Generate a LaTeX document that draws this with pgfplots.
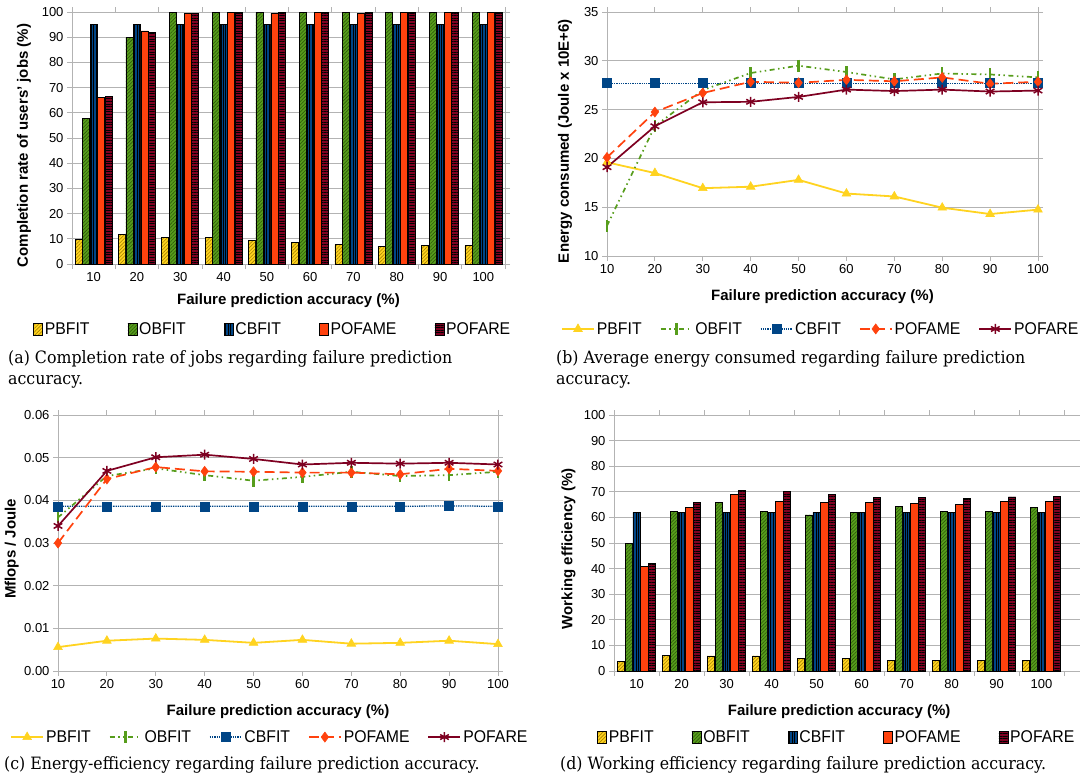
\documentclass[border=0pt]{standalone}
\usepackage{fontspec}
\setmainfont{Liberation Sans}
\newfontfamily\legfont[FakeStretch=0.93]{Liberation Sans}
\newfontfamily\capfont[FakeStretch=0.93]{DejaVu Serif}
\usepackage{pgfplots}
\usepackage{pgfplotstable}
\pgfplotsset{compat=1.18}
\usetikzlibrary{patterns,patterns.meta}
\definecolor{cyel}{HTML}{FFD320}
\definecolor{cgre}{HTML}{579D1C}
\definecolor{cblu}{HTML}{004586}
\definecolor{cora}{HTML}{FF420E}
\definecolor{cred}{HTML}{7E0021}
\definecolor{gridc}{HTML}{B3B3B3}
\definecolor{cyelh}{HTML}{A88400}
\definecolor{cgreh}{HTML}{2E5A0A}

\pgfplotstableread{
x pb ob cb pm pr
0 9.7 57.7 95 66.0 66.4
1 11.7 90.0 95 92.5 92.0
2 10.6 99.7 95 99.3 99.3
3 10.5 100 95 99.7 100
4 9.5 100 95 99.6 100
5 8.6 100 95 99.7 100
6 7.8 100 95 99.6 100
7 7.1 100 95 99.8 100
8 7.5 100 95 100 100
9 7.3 100 95 99.7 100
}\tabA
\pgfplotstableread{
x pb ob cb pm pr
10 19.6 13.1 27.7 20.1 19.1
20 18.5 23.3 27.7 24.75 23.3
30 16.95 27.0 27.7 26.7 25.75
40 17.1 28.75 27.7 27.85 25.8
50 17.8 29.5 27.7 27.75 26.3
60 16.4 28.85 27.7 28.05 27.05
70 16.1 28.1 27.7 27.9 26.9
80 14.95 28.7 27.7 28.3 27.05
90 14.3 28.6 27.7 27.65 26.85
100 14.75 28.3 27.7 27.85 26.95
}\tabB
\pgfplotstableread{
x pb ob cb pm pr
10 0.0056 0.0360 0.0386 0.0300 0.0340
20 0.0071 0.0457 0.0386 0.0450 0.0469
30 0.0076 0.0475 0.0386 0.0478 0.0501
40 0.0073 0.0459 0.0386 0.0468 0.0507
50 0.0066 0.0446 0.0386 0.0467 0.0497
60 0.0073 0.0455 0.0386 0.0465 0.0484
70 0.0064 0.0467 0.0386 0.0465 0.0488
80 0.0066 0.0457 0.0386 0.0461 0.0486
90 0.0071 0.0459 0.0387 0.0474 0.0488
100 0.0063 0.0467 0.0386 0.0469 0.0484
}\tabC
\pgfplotstableread{
x pb ob cb pm pr
0 3.8 49.7 62 41.0 42.0
1 6.1 62.5 62 63.9 66.0
2 5.9 65.9 62 69.0 70.7
3 5.9 62.5 62 66.3 70.2
4 4.9 61.0 62 65.8 69.0
5 4.8 62.0 62 65.9 67.7
6 4.2 64.2 62 65.6 67.8
7 4.2 62.2 62 65.1 67.3
8 4.3 62.2 62 66.4 68.0
9 4.2 63.9 62 66.4 68.1
}\tabD

\pgfplotsset{
  base/.style={
    scale only axis,
    axis line style={gridc, line width=0.8pt},
    ymajorgrids, grid style={gridc, line width=0.8pt},
    tick align=outside, major tick length=5pt, minor tick length=5pt,
    tick style={gridc, line width=0.8pt},
    tick label style={font=\fontsize{13}{13}\selectfont},
    label style={font=\fontsize{15}{15}\selectfont\bfseries},
    /pgf/number format/assume math mode=true,
    legend columns=5,
    legend style={draw=none, fill=none, inner sep=0pt,
      font=\legfont\fontsize{17}{17}\selectfont,
      nodes={inner sep=2pt}},
  },
  barax/.style={base, ybar=0.5pt, bar width=7pt,
    xmin=-0.5, ymin=0, ymax=100, ytick={0,10,...,100},
    xtick={0,...,9}, xticklabels={10,20,30,40,50,60,70,80,90,100},
    minor xtick={-0.5,0.5,...,9.5},
    major x tick style={draw=none},
    legend style={/tikz/every even column/.append style={column sep=36pt}},
    legend image code/.code={\draw[##1] (0pt,-6pt) rectangle (9pt,6pt);},
  },
  lineax/.style={base, xmin=10, xmax=100, xtick={10,20,...,100},
    legend style={/tikz/every even column/.append style={column sep=16pt}},
    legend image code/.code={\draw[mark repeat=2, mark phase=2, ##1] plot coordinates {(0pt,0pt) (16pt,0pt) (32pt,0pt)};},
  },
  bPB/.style={draw=black, line width=0.6pt, fill=cyel, postaction={pattern={Lines[angle=45,distance=2.5pt,line width=0.6pt]}, pattern color=cyelh}},
  bOB/.style={draw=black, line width=0.6pt, fill=cgre, postaction={pattern={Lines[angle=45,distance=2.5pt,line width=0.6pt]}, pattern color=cgreh}},
  bCB/.style={draw=black, line width=0.6pt, fill=cblu, postaction={pattern={Lines[angle=90,distance=2.4pt,line width=0.5pt]}, pattern color=black}},
  bPM/.style={draw=black, line width=0.6pt, fill=cora},
  bPR/.style={draw=black, line width=0.6pt, fill=cred, postaction={pattern={Lines[angle=0,distance=2.6pt,line width=0.6pt]}, pattern color=black}},
  lPB/.style={color=cyel, line width=1.8pt, mark=triangle*, mark size=5pt, mark options={solid, line width=0.6pt}},
  lOB/.style={color=cgre, line width=1.7pt, dash pattern=on 5pt off 3.5pt on 1.5pt off 3.5pt on 1.5pt off 3.5pt, mark=|, mark size=6pt, mark options={solid, line width=2.5pt}},
  lCB/.style={color=cblu, line width=1.3pt, densely dotted, mark=square*, mark size=4.5pt, mark options={solid, line width=0.6pt}},
  lPM/.style={color=cora, line width=1.7pt, dash pattern=on 10pt off 5pt, mark=diamond*, mark size=5pt, mark options={solid, line width=0.6pt}},
  lPR/.style={color=cred, line width=1.7pt, mark=asterisk, mark size=5pt, mark options={solid, line width=1.5pt}},
}

\begin{document}
\begin{tikzpicture}
\path[use as bounding box] (0pt,0pt) rectangle (1080pt,-780pt);

% (a)
\begin{axis}[barax, at={(72pt,-264pt)}, anchor=south west,
  width=433pt, height=252pt, xmax=9.5,
  ylabel={Completion rate of users' jobs (\%)},
  xlabel={Failure prediction accuracy (\%)},
  ylabel style={at={(axis description cs:-0.111,0.47)}, anchor=center},
  xlabel style={at={(axis description cs:0.5,-0.147)}, anchor=center},
  legend style={at={(axis description cs:-0.09,-0.258)}, anchor=west}]
\addplot[bPB] table[x=x,y=pb]{\tabA};
\addplot[bOB] table[x=x,y=ob]{\tabA};
\addplot[bCB] table[x=x,y=cb]{\tabA};
\addplot[bPM] table[x=x,y=pm]{\tabA};
\addplot[bPR] table[x=x,y=pr]{\tabA};
\legend{PBFIT,OBFIT,CBFIT,POFAME,POFARE}
\end{axis}

% (b)
\begin{axis}[lineax, at={(607pt,-256pt)}, anchor=south west,
  width=431pt, height=244pt, ymin=10, ymax=35, ytick={10,15,...,35},
  ylabel={Energy consumed (Joule x 10E+6)},
  xlabel={Failure prediction accuracy (\%)},
  ylabel style={at={(axis description cs:-0.0975,0.471)}, anchor=center},
  xlabel style={at={(axis description cs:0.5,-0.168)}, anchor=center},
  legend style={at={(axis description cs:-0.107,-0.299)}, anchor=west}]
\addplot[lPB] table[x=x,y=pb]{\tabB};
\addplot[lOB] table[x=x,y=ob]{\tabB};
\addplot[lCB] table[x=x,y=cb]{\tabB};
\addplot[lPM] table[x=x,y=pm]{\tabB};
\addplot[lPR] table[x=x,y=pr]{\tabB};
\legend{PBFIT,OBFIT,CBFIT,POFAME,POFARE}
\end{axis}

% (c)
\begin{axis}[lineax, at={(58pt,-671pt)}, anchor=south west,
  width=440pt, height=256pt, ymin=0, ymax=0.06,
  ytick={0,0.01,0.02,0.03,0.04,0.05,0.06}, scaled y ticks=false,
  yticklabel style={/pgf/number format/.cd, fixed, fixed zerofill, precision=2},
  ylabel={Mflops / Joule},
  xlabel={Failure prediction accuracy (\%)},
  ylabel style={at={(axis description cs:-0.105,0.477)}, anchor=center},
  xlabel style={at={(axis description cs:0.5,-0.160)}, anchor=center},
  legend style={at={(axis description cs:-0.109,-0.258)}, anchor=west}]
\addplot[lPB] table[x=x,y=pb]{\tabC};
\addplot[lOB] table[x=x,y=ob]{\tabC};
\addplot[lCB] table[x=x,y=cb]{\tabC};
\addplot[lPM] table[x=x,y=pm]{\tabC};
\addplot[lPR] table[x=x,y=pr]{\tabC};
\legend{PBFIT,OBFIT,CBFIT,POFAME,POFARE}
\end{axis}

% (d)
\begin{axis}[barax, at={(614pt,-671pt)}, anchor=south west,
  width=470pt, height=256pt, xmax=9.944, bar width=7.3pt,
  ylabel={Working efficiency (\%)},
  xlabel={Failure prediction accuracy (\%)},
  ylabel style={at={(axis description cs:-0.0968,0.477)}, anchor=center},
  xlabel style={at={(axis description cs:0.479,-0.160)}, anchor=center},
  legend style={at={(axis description cs:-0.036,-0.258)}, anchor=west}]
\addplot[bPB] table[x=x,y=pb]{\tabD};
\addplot[bOB] table[x=x,y=ob]{\tabD};
\addplot[bCB] table[x=x,y=cb]{\tabD};
\addplot[bPM] table[x=x,y=pm]{\tabD};
\addplot[bPR] table[x=x,y=pr]{\tabD};
\legend{PBFIT,OBFIT,CBFIT,POFAME,POFARE}
\end{axis}

% captions
\begin{scope}[every node/.style={inner sep=0pt, anchor=north west, align=left,
    font=\capfont\fontsize{17}{21.5}\selectfont}]
\node at (8pt,-350pt) {(a) Completion rate of jobs regarding failure prediction\\accuracy.};
\node at (556pt,-350pt) {(b) Average energy consumed regarding failure prediction\\accuracy.};
\node at (4pt,-756pt) {(c) Energy-efficiency regarding failure prediction accuracy.};
\node at (560pt,-756pt) {(d) Working efficiency regarding failure prediction accuracy.};
\end{scope}
\end{tikzpicture}
\end{document}
